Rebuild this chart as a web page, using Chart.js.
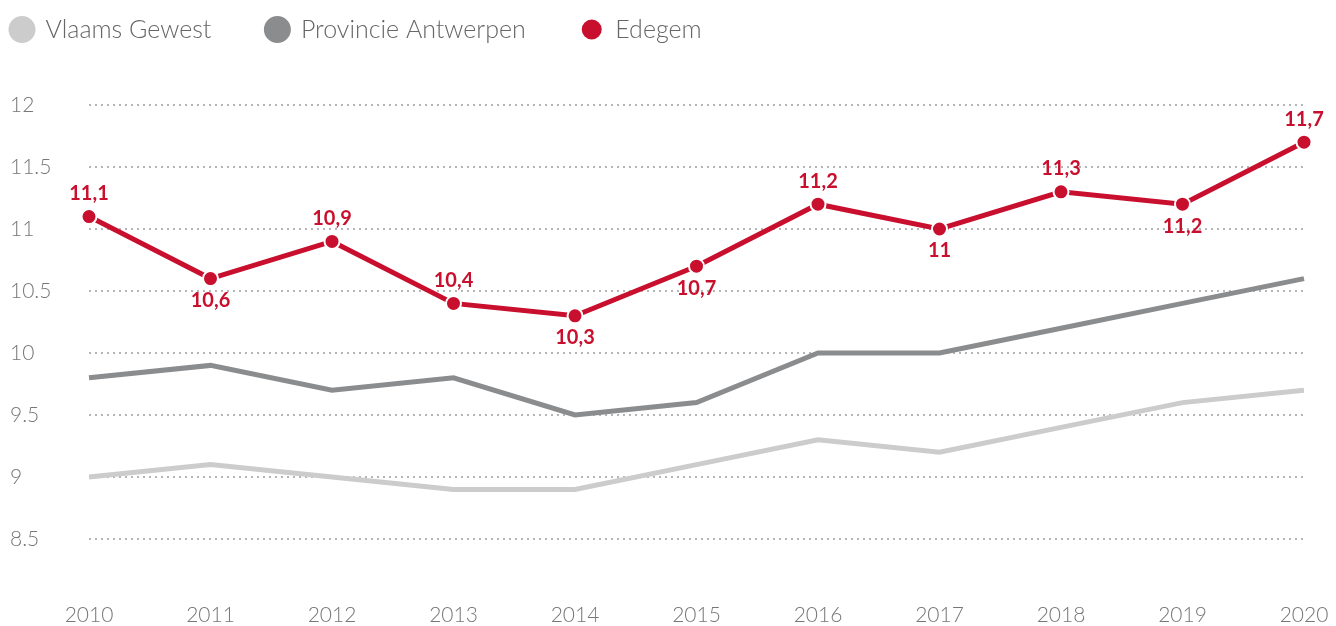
<!DOCTYPE html>
<html>
<head>
<meta charset="utf-8">
<script src="https://cdn.jsdelivr.net/npm/chart.js@4"></script>
<style>
  html, body { margin: 0; padding: 0; background: #fff; }
  #wrap { width: 1336px; height: 626px; }
</style>
</head>
<body>
<div id="wrap"><canvas id="chart"></canvas></div>
<script>
const years = ['2010', '2011', '2012', '2013', '2014', '2015', '2016', '2017', '2018', '2019', '2020'];
const vlaamsGewest = [9.0, 9.1, 9.0, 8.9, 8.9, 9.1, 9.3, 9.2, 9.4, 9.6, 9.7];
const provincieAntwerpen = [9.8, 9.9, 9.7, 9.8, 9.5, 9.6, 10.0, 10.0, 10.2, 10.4, 10.6];
const edegem = [11.1, 10.6, 10.9, 10.4, 10.3, 10.7, 11.2, 11.0, 11.3, 11.2, 11.7];
const yTicks = [8.5, 9, 9.5, 10, 10.5, 11, 11.5, 12];

// label above (1) or below (-1) each Edegem point
const labelSide = [1, -1, 1, 1, -1, -1, 1, -1, 1, -1, 1];

const RED = '#c8102e';
const DARK = '#8a8c8e';
const LIGHT = '#cccccc';

// draws the red value labels on the Edegem line
const valueLabels = {
  id: 'valueLabels',
  afterDatasetsDraw(chart) {
    const meta = chart.getDatasetMeta(2);
    const ctx = chart.ctx;
    ctx.save();
    ctx.font = 'bold 20px Lato';
    ctx.fillStyle = RED;
    ctx.textAlign = 'center';
    ctx.textBaseline = 'middle';
    meta.data.forEach((pt, i) => {
      const txt = String(edegem[i]).replace('.', ',');
      ctx.fillText(txt, pt.x, pt.y + (labelSide[i] > 0 ? -23 : 22));
    });
    ctx.restore();
  }
};

// more room between legend and plot, and legend nudged to the top-left
const legendGap = {
  id: 'legendGap',
  beforeInit(chart) {
    const fit = chart.legend.fit;
    chart.legend.fit = function () {
      fit.call(this);
      this.height += 15;
    };
  },
  afterLayout(chart) {
    chart.legend.left = -44;
    chart.legend.top = -38;
  }
};

const ctx = document.getElementById('chart').getContext('2d');
new Chart(ctx, {
  type: 'line',
  data: {
    labels: years,
    datasets: [
      {
        label: 'Vlaams Gewest',
        data: vlaamsGewest,
        borderColor: LIGHT,
        backgroundColor: LIGHT,
        borderWidth: 5,
        pointRadius: 0,
        pointHoverRadius: 0,
        tension: 0
      },
      {
        label: 'Provincie Antwerpen',
        data: provincieAntwerpen,
        borderColor: DARK,
        backgroundColor: DARK,
        borderWidth: 5,
        pointRadius: 0,
        pointHoverRadius: 0,
        tension: 0
      },
      {
        label: 'Edegem',
        data: edegem,
        borderColor: RED,
        backgroundColor: RED,
        borderWidth: 5,
        pointRadius: 7.5,
        pointBorderColor: '#fff',
        pointBorderWidth: 2,
        pointBackgroundColor: RED,
        tension: 0
      }
    ]
  },
  options: {
    responsive: true,
    maintainAspectRatio: false,
    animation: false,
    layout: { padding: { left: 10, right: 32, top: 0, bottom: 0 } },
    plugins: {
      legend: {
        align: 'start',
        labels: {
          usePointStyle: true,
          pointStyle: 'circle',
          boxHeight: 15.5,
          pointStyleWidth: 22,
          padding: 55,
          color: '#666',
          font: { family: 'Lato', size: 25, weight: 300 }
        }
      },
      tooltip: { enabled: false }
    },
    scales: {
      x: {
        offset: false,
        grid: { display: false },
        border: { display: false },
        afterFit(axis) { axis.height = 25; },
        ticks: {
          color: '#777',
          padding: -6,
          font: { family: 'Lato', size: 21, weight: 300 }
        }
      },
      y: {
        min: 8,
        max: 12,
        afterBuildTicks(axis) {
          axis.ticks = yTicks.map(v => ({ value: v }));
        },
        afterFit(axis) { axis.width = 79; },
        border: { display: false, dash: [2, 4] },
        grid: {
          color: '#b5b5b5',
          lineWidth: 2,
          drawTicks: false
        },
        ticks: {
          crossAlign: 'far',
          color: '#777',
          padding: 10,
          font: { family: 'Lato', size: 21, weight: 300 },
          callback: v => String(v)
        }
      }
    }
  },
  plugins: [valueLabels, legendGap]
});
</script>
</body>
</html>
